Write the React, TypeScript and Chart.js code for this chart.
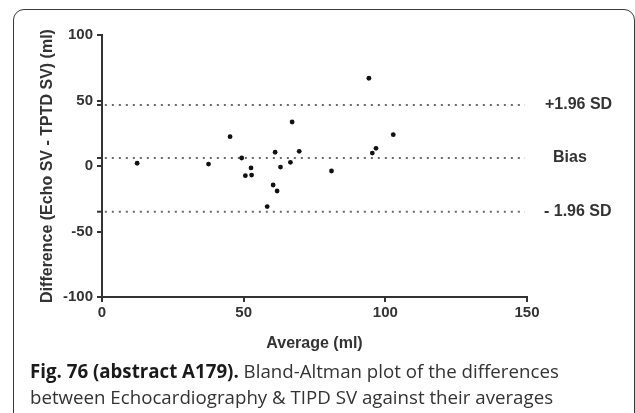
import React, { useEffect, useRef } from "react";
import { Chart, registerables } from "chart.js";

Chart.register(...registerables);

const averages = [12.4, 37.6, 45.2, 49.3, 50.6, 52.8, 52.6, 58.3, 60.4, 61.8, 61.1, 63.0, 66.5, 67.1, 69.6, 81.0, 94.2, 95.4, 96.7, 102.8];
const differences = [2.1, 1.5, 22.4, 6.1, -7.4, -6.9, -1.5, -31.0, -14.5, -19.1, 10.5, -0.8, 2.8, 33.6, 11.2, -3.8, 67.0, 9.9, 13.5, 23.9];

const refValues = [46.6, 6.1, -34.9];
const refLabels = ["+1.96 SD", "Bias", "- 1.96 SD"];
const refLabelOffsets = [18, 26, 17];
const lineStart = 1;
const lineEnd = 149.3;

const xTicks = [0, 50, 100, 150];
const yTicks = [-100, -50, 0, 50, 100];

const AXIS_COLOR = "#333333";
const FONT = "'Liberation Sans', Arial, sans-serif";

export default function App() {
  const canvasRef = useRef<HTMLCanvasElement | null>(null);

  useEffect(() => {
    const canvas = canvasRef.current;
    if (!canvas) return;

    const refPlugin = {
      id: "refLabels",
      afterDatasetsDraw(chart: any) {
        const { ctx, chartArea, scales } = chart;
        const y = scales.y;
        ctx.save();
        refValues.forEach((v, i) => {
          const py = y.getPixelForValue(v);
          ctx.strokeStyle = AXIS_COLOR;
          ctx.lineWidth = 2;
          ctx.beginPath();
          ctx.moveTo(chartArea.left - 5, py);
          ctx.lineTo(chartArea.left, py);
          ctx.stroke();
          ctx.fillStyle = "#333";
          ctx.font = `bold 16px ${FONT}`;
          ctx.textAlign = "left";
          ctx.textBaseline = "middle";
          ctx.fillText(refLabels[i], chartArea.right + refLabelOffsets[i], py);
        });
        ctx.restore();
      },
    };

    const refDatasets = refValues.map((v) => ({
      type: "line" as const,
      data: [
        { x: lineStart, y: v },
        { x: lineEnd, y: v },
      ],
      borderColor: "#6a6a6a",
      borderWidth: 2,
      borderDash: [2, 5],
      pointRadius: 0,
      fill: false,
    }));

    const chart = new Chart(canvas, {
      type: "scatter",
      data: {
        datasets: [
          {
            type: "scatter",
            data: averages.map((a, i) => ({ x: a, y: differences[i] })),
            backgroundColor: "#111",
            borderColor: "#111",
            pointRadius: 2.4,
            pointBorderWidth: 0,
          } as any,
          ...(refDatasets as any[]),
        ],
      },
      options: {
        responsive: false,
        animation: false,
        events: [],
        layout: { padding: { left: 0, right: 108, top: 35, bottom: 0 } },
        plugins: {
          legend: { display: false },
          tooltip: { enabled: false },
        },
        scales: {
          x: {
            type: "linear",
            min: 0,
            max: 150,
            afterBuildTicks: (scale: any) => {
              scale.ticks = xTicks.map((v) => ({ value: v }));
            },
            afterFit: (scale: any) => {
              scale.height = 63;
            },
            grid: {
              drawOnChartArea: false,
              drawTicks: true,
              tickLength: 5,
              color: AXIS_COLOR,
              lineWidth: 2,
            },
            border: { display: true, color: AXIS_COLOR, width: 2 },
            ticks: {
              color: "#333",
              padding: 2,
              maxRotation: 0,
              font: { family: FONT, size: 15, weight: "bold" },
            },
            title: {
              display: true,
              text: "Average (ml)",
              color: "#333",
              font: { family: FONT, size: 16, weight: "bold" },
              padding: { top: 0, bottom: 7 },
            },
          },
          y: {
            type: "linear",
            min: -100,
            max: 100,
            afterBuildTicks: (scale: any) => {
              scale.ticks = yTicks.map((v) => ({ value: v }));
            },
            afterFit: (scale: any) => {
              scale.width = 102;
            },
            grid: {
              drawOnChartArea: false,
              drawTicks: true,
              tickLength: 5,
              color: AXIS_COLOR,
              lineWidth: 2,
            },
            border: { display: true, color: AXIS_COLOR, width: 2 },
            ticks: {
              color: "#333",
              padding: 4,
              font: { family: FONT, size: 15, weight: "bold" },
            },
            title: {
              display: true,
              text: "Difference (Echo SV - TPTD SV) (ml)",
              color: "#333",
              font: { family: FONT, size: 16, weight: "bold" },
              padding: { top: 38, bottom: 0 },
            },
          },
        },
      } as any,
      plugins: [refPlugin],
    });

    return () => {
      chart.destroy();
    };
  }, []);

  return (
    <div
      style={{
        position: "fixed",
        left: 0,
        top: 0,
        width: 635,
        height: 413,
        background: "#fff",
        overflow: "hidden",
      }}
    >
      <div
        style={{
          position: "absolute",
          left: 13,
          top: 9,
          width: 622,
          height: 520,
          boxSizing: "border-box",
          border: "1.5px solid #3a3a3a",
          borderRadius: 11,
        }}
      />
      <canvas
        ref={canvasRef}
        width={635}
        height={360}
        style={{ position: "absolute", left: 0, top: 0, width: 635, height: 360 }}
      />
      <div
        style={{
          position: "absolute",
          left: 30,
          top: 358,
          fontFamily: "'Open Sans', 'Noto Sans', sans-serif",
          fontSize: 18.7,
          lineHeight: "26px",
          color: "#333",
          whiteSpace: "nowrap",
        }}
      >
        <span style={{ fontWeight: 700, color: "#1a1a1a" }}>Fig. 76 (abstract A179).</span> Bland-Altman plot of the differences
        <br />
        between Echocardiography &amp; TIPD SV against their averages
      </div>
    </div>
  );
}
